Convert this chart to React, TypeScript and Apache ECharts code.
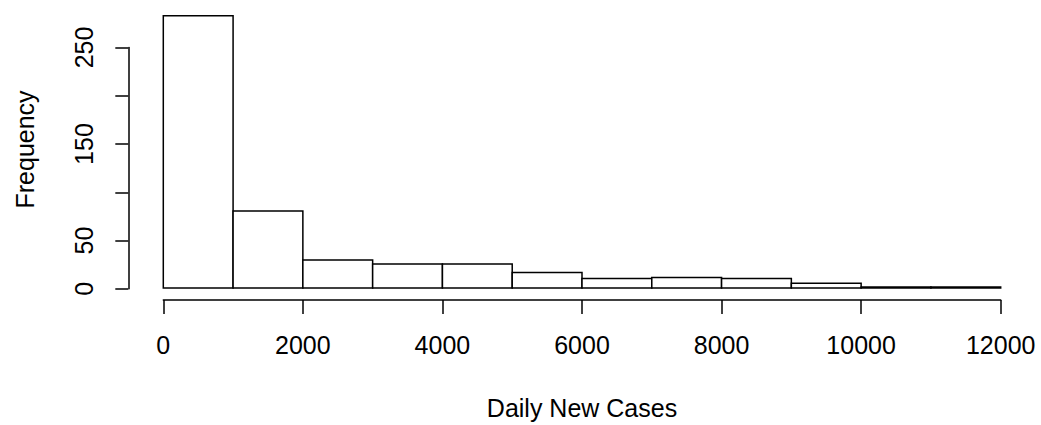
import React, { useEffect, useRef } from "react";
import * as echarts from "echarts";

const binEdges = [0, 1000, 2000, 3000, 4000, 5000, 6000, 7000, 8000, 9000, 10000, 11000, 12000];
const counts = [283, 80, 29, 25, 25, 16, 10, 11, 10, 5, 1, 1];
const xTickMin = 0;
const xTickMax = 12000;
const xTickStep = 2000;
const yTickMin = 0;
const yTickMax = 250;
const yTickStep = 50;
const yLabelsShown = [0, 50, 150, 250];
const xTitle = "Daily New Cases";
const yTitle = "Frequency";

const FONT = "Liberation Sans, Arial, sans-serif";
const INK = "#000";

export default function App() {
  const ref = useRef<HTMLDivElement>(null);
  useEffect(() => {
    if (!ref.current) return;
    const chart = echarts.init(ref.current, undefined, { renderer: "svg" });
    const histData = counts.map((c, i) => [binEdges[i], binEdges[i + 1], c]);
    chart.setOption({
      animation: false,
      backgroundColor: "#fff",
      textStyle: { fontFamily: FONT, color: INK },
      grid: [
        { left: 163.3, right: 40.3, top: 10.9, bottom: 136.2 },
        { left: 163.3, right: 40.3, top: 47.5, bottom: 136.2 },
      ],
      xAxis: [
        {
          gridIndex: 0,
          type: "value",
          min: xTickMin,
          max: xTickMax,
          interval: xTickStep,
          offset: 12,
          axisLine: { show: true, onZero: false, lineStyle: { color: INK, width: 1.5 } },
          axisTick: { show: true, length: 14, lineStyle: { color: INK, width: 1.5 } },
          axisLabel: {
            fontSize: 25,
            color: INK,
            fontFamily: FONT,
            margin: 32,
            showMinLabel: true,
            showMaxLabel: true,
            formatter: (v: number) => String(v),
          },
          splitLine: { show: false },
          name: xTitle,
          nameLocation: "middle",
          nameGap: 95,
          nameTextStyle: { fontSize: 25, color: INK, fontFamily: FONT },
        },
        { gridIndex: 1, type: "value", min: xTickMin, max: xTickMax, show: false },
      ],
      yAxis: [
        {
          gridIndex: 0,
          type: "value",
          min: 0,
          max: 288,
          axisLine: { show: false },
          axisTick: { show: false },
          axisLabel: { show: false },
          splitLine: { show: false },
          name: yTitle,
          nameLocation: "middle",
          nameRotate: 90,
          nameGap: 126,
          nameTextStyle: { fontSize: 25, color: INK, fontFamily: FONT },
        },
        {
          gridIndex: 1,
          type: "value",
          min: yTickMin,
          max: yTickMax,
          interval: yTickStep,
          offset: 35,
          axisLine: { show: true, onZero: false, lineStyle: { color: INK, width: 1.5 } },
          axisTick: { show: true, length: 13, lineStyle: { color: INK, width: 1.5 } },
          axisLabel: {
            rotate: 90,
            fontSize: 25,
            color: INK,
            fontFamily: FONT,
            margin: 32,
            showMinLabel: true,
            showMaxLabel: true,
            formatter: (v: number) => (yLabelsShown.includes(v) ? String(v) : ""),
          },
          splitLine: { show: false },
        },
      ],
      series: [
        {
          type: "custom",
          xAxisIndex: 0,
          yAxisIndex: 0,
          data: histData,
          encode: { x: [0, 1], y: 2 },
          renderItem: (params: any, api: any) => {
            const p0 = api.coord([api.value(0), api.value(2)]);
            const p1 = api.coord([api.value(1), 0]);
            return {
              type: "rect",
              shape: { x: p0[0], y: p0[1], width: p1[0] - p0[0], height: p1[1] - p0[1] },
              style: { fill: "#fff", stroke: INK, lineWidth: 1.5 },
            };
          },
        },
      ],
    });
    return () => chart.dispose();
  }, []);
  return (
    <div
      ref={ref}
      style={{ position: "absolute", left: 0, top: 0, width: 1041, height: 425, background: "#fff" }}
    />
  );
}
